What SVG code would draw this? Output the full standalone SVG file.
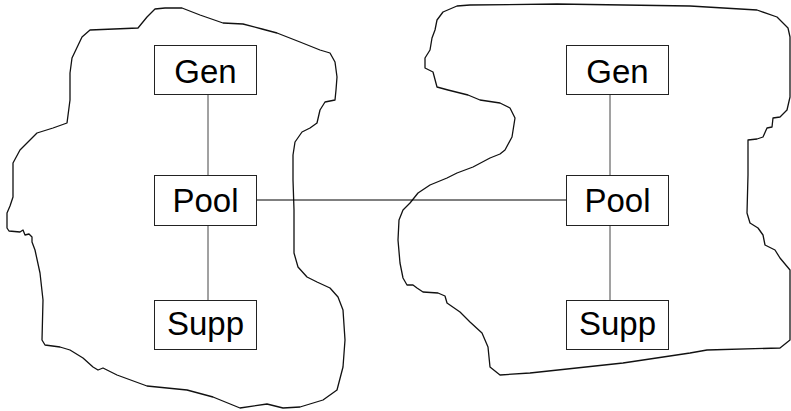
<svg xmlns="http://www.w3.org/2000/svg" width="791" height="411" viewBox="0 0 791 411">
  <style>
    .blob { fill: none; stroke: #111; stroke-width: 1.3; stroke-linejoin: round; stroke-linecap: round; }
    .box rect { fill: #fff; stroke: #222; stroke-width: 1; }
    .box text { font-family: "Liberation Sans", Arial, sans-serif; font-size: 33px; fill: #000; text-anchor: middle; }
    .link { stroke: #444; stroke-width: 1; fill: none; }
    .bridge { stroke: #000; stroke-width: 1; fill: none; }
  </style>
  <rect width="791" height="411" fill="#fff"/>

  <!-- irregular outlines of the two regions -->
  <g id="regions">
    <path id="region-left" class="blob" d="M90,30 L138,28 L147,17 L155,9 L165,8 L182,8 L200,15 L223,23 L243,24 L262,29 L277,33 L300,42 L320,50 L330,53 L335,62 L337,77 L336,90 L335,100 L325,102 L320,110 L317,123 L310,128 L302,132 L295,142 L293,155 L293,180 L294,210 L294,233 L294,253 L298,267 L307,277 L317,282 L330,288 L338,297 L343,310 L345,340 L343,367 L337,390 L323,400 L300,407 L283,408 L267,404 L240,408 L213,397 L187,390 L147,386 L117,375 L103,368 L98,370 L93,367 L83,358 L70,350 L60,347 L45,345 L42,340 L43,300 L40,273 L35,250 L32,242 L32,237 L29,234 L25,235 L23,230 L20,232 L9,231 L7,228 L7,213 L10,206 L13,197 L13,163 L20,150 L37,133 L53,128 L67,123 L70,100 L70,73 L72,58 L82,37 Z"/>
    <path id="region-right" class="blob" d="M457,6 L470,5 L557,4 L690,6 L757,10 L777,17 L788,28 L790,37 L790,97 L787,110 L780,117 L773,118 L772,127 L767,128 L763,137 L757,139 L748,140 L748,175 L747,213 L750,223 L758,228 L763,235 L765,245 L775,250 L780,258 L790,270 L790,340 L780,348 L707,350 L690,353 L623,363 L530,373 L500,375 L490,367 L488,347 L482,333 L470,322 L460,312 L447,303 L445,296 L438,293 L423,292 L417,288 L413,285 L407,285 L403,278 L400,263 L398,240 L399,220 L403,210 L410,203 L418,193 L430,185 L447,178 L457,173 L473,167 L490,158 L500,154 L505,150 L512,137 L515,118 L510,108 L500,103 L480,100 L468,95 L448,90 L437,87 L433,72 L425,68 L425,58 L430,50 L432,38 L435,30 L437,20 L443,12 Z"/>
  </g>

  <!-- connectors -->
  <g id="connectors">
    <line class="link" x1="208" y1="94" x2="208" y2="175"/>
    <line class="link" x1="208" y1="225" x2="208" y2="300"/>
    <line class="link" x1="610" y1="94" x2="610" y2="175"/>
    <line class="link" x1="610" y1="225" x2="610" y2="300"/>
    <line class="bridge" x1="256" y1="200" x2="566" y2="200"/>
  </g>

  <!-- left cluster -->
  <g id="gen-left" class="box">
    <rect x="154.5" y="45.5" width="102" height="49"/>
    <text x="205.5" y="83">Gen</text>
  </g>
  <g id="pool-left" class="box">
    <rect x="154.5" y="175.5" width="102" height="50"/>
    <text x="205.5" y="212">Pool</text>
  </g>
  <g id="supp-left" class="box">
    <rect x="154.5" y="300.5" width="102" height="49"/>
    <text x="205.5" y="335">Supp</text>
  </g>

  <!-- right cluster -->
  <g id="gen-right" class="box">
    <rect x="566.5" y="45.5" width="102" height="49"/>
    <text x="617.5" y="83">Gen</text>
  </g>
  <g id="pool-right" class="box">
    <rect x="566.5" y="175.5" width="102" height="50"/>
    <text x="617.5" y="212">Pool</text>
  </g>
  <g id="supp-right" class="box">
    <rect x="566.5" y="300.5" width="102" height="49"/>
    <text x="617.5" y="335">Supp</text>
  </g>
</svg>
